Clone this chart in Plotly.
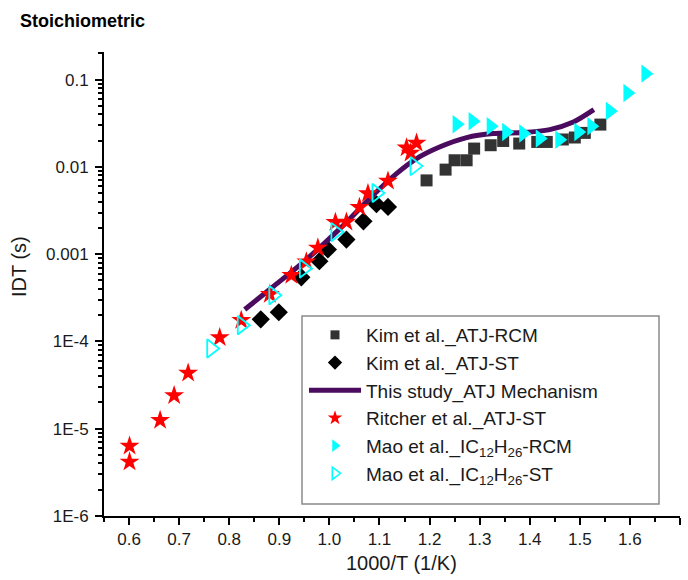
import plotly.graph_objects as go

# ---------------- data ----------------
kim_rcm_x = [1.194, 1.232, 1.250, 1.274, 1.289, 1.322, 1.347, 1.379, 1.415, 1.434, 1.466, 1.490, 1.510, 1.541]
kim_rcm_y = [7.0e-3, 9.3e-3, 0.0119, 0.0119, 0.0162, 0.0177, 0.0198, 0.0185, 0.0193, 0.0193, 0.0206, 0.0217, 0.0245, 0.0305]

kim_st_x = [0.863, 0.899, 0.944, 0.980, 0.997, 1.034, 1.068, 1.094, 1.117]
kim_st_y = [1.79e-4, 2.16e-4, 5.43e-4, 8.3e-4, 1.13e-3, 1.47e-3, 2.38e-3, 3.73e-3, 3.48e-3]

model_x = [0.831, 0.887, 0.954, 1.021, 1.087, 1.134, 1.174, 1.220, 1.274, 1.327, 1.387, 1.440, 1.487, 1.528]
model_y = [2.32e-4, 4.21e-4, 8.67e-4, 1.96e-3, 4.73e-3, 8.38e-3, 0.01245, 0.0169, 0.02166, 0.02406, 0.0247, 0.02675, 0.03268, 0.04533]

ritcher_x = [0.601, 0.601, 0.662, 0.690, 0.718, 0.781, 0.824, 0.881, 0.924, 0.954, 0.977, 1.012, 1.034, 1.060, 1.077, 1.117, 1.154, 1.174, 1.162]
ritcher_y = [6.35e-6, 4.17e-6, 1.25e-5, 2.4e-5, 4.35e-5, 1.11e-4, 1.75e-4, 3.47e-4, 5.73e-4, 8.18e-4, 1.18e-3, 2.32e-3, 2.34e-3, 3.45e-3, 4.94e-3, 6.9e-3, 0.0166, 0.0188, 0.0144]

mao_rcm_x = [1.254, 1.286, 1.322, 1.353, 1.387, 1.420, 1.459, 1.497, 1.523, 1.560, 1.595, 1.631]
mao_rcm_y = [0.0308, 0.0333, 0.0292, 0.0251, 0.0241, 0.0211, 0.0205, 0.0251, 0.0292, 0.0437, 0.0703, 0.117]

mao_st_x = [0.764, 0.825, 0.888, 0.949, 1.012, 1.094, 1.170]
mao_st_y = [8.3e-5, 1.53e-4, 3.38e-4, 6.84e-4, 1.79e-3, 5.02e-3, 0.0102]

x_ticks = [0.6, 0.7, 0.8, 0.9, 1.0, 1.1, 1.2, 1.3, 1.4, 1.5, 1.6, 1.7]
y_ticks = [1e-6, 1e-5, 1e-4, 1e-3, 1e-2, 1e-1]
y_ticktext = ["1E-6", "1E-5", "1E-4", "0.001", "0.01", "0.1"]

names = ["Kim et al._ATJ-RCM", "Kim et al._ATJ-ST", "This study_ATJ Mechanism",
         "Ritcher et al._ATJ-ST", "Mao et al._IC<sub>12</sub>H<sub>26</sub>-RCM",
         "Mao et al._IC<sub>12</sub>H<sub>26</sub>-ST"]

# ---------------- style ----------------
FONT = "Liberation Sans, Arial, sans-serif"
TXT = "#1a1a1a"
C_SQ = "#333333"
C_DI = "#000000"
C_LINE = "#4B0B5E"
C_STAR = "#FF0000"
C_CYAN = "#00FFFF"

y_minor = [m * 10.0 ** k for k in range(-6, 0) for m in range(2, 10)]

fig = go.Figure()

# plotted data (no legend)
fig.add_trace(go.Scatter(x=kim_rcm_x, y=kim_rcm_y, mode="markers", showlegend=False,
                         marker=dict(symbol="square", size=12, color=C_SQ)))
fig.add_trace(go.Scatter(x=kim_st_x, y=kim_st_y, mode="markers", showlegend=False,
                         marker=dict(symbol="diamond", size=14, color=C_DI)))
fig.add_trace(go.Scatter(x=model_x, y=model_y, mode="lines", showlegend=False,
                         line=dict(color=C_LINE, width=5, shape="spline", smoothing=0.8)))
fig.add_trace(go.Scatter(x=ritcher_x, y=ritcher_y, mode="markers", showlegend=False,
                         marker=dict(symbol="star", size=15, color=C_STAR, line=dict(width=0))))
fig.add_trace(go.Scatter(x=mao_rcm_x, y=mao_rcm_y, mode="markers", showlegend=False,
                         marker=dict(symbol="triangle-right", size=16, color=C_CYAN)))
fig.add_trace(go.Scatter(x=mao_st_x, y=mao_st_y, mode="markers", showlegend=False,
                         marker=dict(symbol="triangle-right-open", size=16, color=C_CYAN,
                                     line=dict(width=1.8, color=C_CYAN))))

# legend entries (smaller symbols, as in the reference)
leg_styles = [
    dict(mode="markers", marker=dict(symbol="square", size=9, color=C_SQ)),
    dict(mode="markers", marker=dict(symbol="diamond", size=11, color=C_DI)),
    dict(mode="lines", line=dict(color=C_LINE, width=5)),
    dict(mode="markers", marker=dict(symbol="star", size=11, color=C_STAR)),
    dict(mode="markers", marker=dict(symbol="triangle-right", size=11, color=C_CYAN)),
    dict(mode="markers", marker=dict(symbol="triangle-right-open", size=11, color=C_CYAN,
                                     line=dict(width=1.5, color=C_CYAN))),
]
for i, (nm, st) in enumerate(zip(names, leg_styles)):
    fig.add_trace(go.Scatter(x=[None], y=[None], name=nm, legendgroup=f"g{i}",
                             showlegend=True, **st))

# plot area geometry in pixels
W, H = 688, 580
L, R, T, B = 104, 8, 52, 64
pw, ph = W - L - R, H - T - B

def px_x(p):
    return (p - L) / pw

def px_y(p):
    return (H - B - p) / ph

# legend frame
fig.add_shape(type="rect", xref="paper", yref="paper",
              x0=px_x(302), x1=px_x(659), y0=px_y(504), y1=px_y(316),
              line=dict(color="#8a8a8a", width=1.5), fillcolor="rgba(0,0,0,0)", layer="above")

# axis titles
fig.add_annotation(text="1000/T (1/K)", xref="paper", yref="paper", x=px_x(401), y=px_y(563),
                   xanchor="center", yanchor="middle", showarrow=False,
                   font=dict(family=FONT, size=20, color=TXT))
fig.add_annotation(text="IDT (s)", xref="paper", yref="paper", x=px_x(19), y=px_y(267),
                   xanchor="center", yanchor="middle", showarrow=False, textangle=-90,
                   font=dict(family=FONT, size=20, color=TXT))

axis_common = dict(showline=True, linecolor="black", linewidth=2, ticks="outside",
                   ticklen=7, tickwidth=2, tickcolor="black", showgrid=False, zeroline=False,
                   mirror=False, automargin=False,
                   tickfont=dict(family=FONT, size=17, color=TXT))

fig.update_layout(
    width=W, height=H,
    margin=dict(l=L, r=R, t=T, b=B),
    plot_bgcolor="white", paper_bgcolor="white",
    font=dict(family=FONT, color=TXT),
    title=dict(text="<b>Stoichiometric</b>", x=20 / W, xref="container", xanchor="left",
               y=1 - 21 / H, yref="container", yanchor="middle",
               font=dict(family=FONT, size=18, color="black")),
    xaxis=dict(range=[0.55, 1.7], tickvals=x_ticks, tickformat=".1f",
               minor=dict(dtick=0.05, tick0=0.55, ticks="outside", ticklen=4, tickwidth=2,
                          tickcolor="black"),
               **axis_common),
    yaxis=dict(type="log", range=[-6, -0.684], tickvals=y_ticks, ticktext=y_ticktext,
               minor=dict(tickvals=y_minor, ticks="outside", ticklen=4, tickwidth=1.5,
                          tickcolor="black"),
               ticklabelstandoff=3,
               **axis_common),
    legend=dict(x=px_x(304), y=px_y(316), xanchor="left", yanchor="top",
                bgcolor="rgba(0,0,0,0)", borderwidth=0, itemwidth=52,
                tracegroupgap=0,
                font=dict(family=FONT, size=19, color=TXT)),
)

fig.write_html("out.html")
